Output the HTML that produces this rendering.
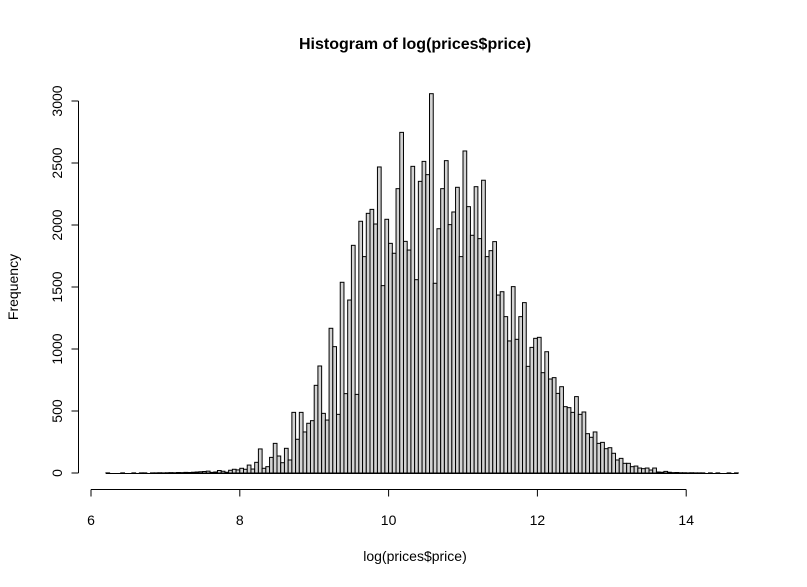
<!DOCTYPE html>
<html><head><meta charset="utf-8"><style>
body{margin:0;background:#fff}
svg{display:block;font-family:"Liberation Sans",Arial,sans-serif}
</style></head><body>
<svg id="chart" width="807" height="587" viewBox="0 0 807 587">
<text x="415" y="49" font-size="16" font-weight="bold" text-anchor="middle">Histogram of log(prices$price)</text>
<text x="415" y="561" font-size="14" text-anchor="middle">log(prices$price)</text>
<text x="18" y="287" font-size="14" text-anchor="middle" transform="rotate(-90 18 287)">Frequency</text>
<g id="bars"></g>
<g id="axes"></g>
</svg>
<script>
const binStart = 6.2;
const binWidth = 0.05;
const counts = [1,0,0,0,1,0,0,1,0,1,1,0,1,1,2,1,2,3,2,4,3,5,4,6,8,10,12,15,
5,8,20,14,6,22,30,25,
38,30,64,32,86,194,38,51,126,239,137,83,199,105,489,272,489,331,401,422,707,863,481,427,1167,1019,473,
1538,640,1395,1836,634,2030,1745,2094,2126,2008,2468,1511,2046,1852,1772,2293,2747,1868,1798,2473,1559,2352,2513,2406,3059,1530,1970,2293,2519,2003,2105,2304,1745,2597,2148,1917,2309,1890,2361,1745,1793,1866,
1435,1462,1261,1065,1503,1078,1261,1374,860,1013,1086,1094,809,978,758,769,642,696,535,527,489,616,473,492,317,288,331,239,247,196,204,159,105,118,78,78,51,56,40,35,40,24,40,8,6,13,6,
3,4,2,2,1,2,1,1,1,0,1,0,1,0,0,1,0,1];
const xTicks = [6,8,10,12,14];
const yTicks = [0,500,1000,1500,2000,2500,3000];

const xs = v => 91 + (v - 6) * 74.4;
const ys = v => 473 - v * 0.124;
const NS = "http://www.w3.org/2000/svg";
const bars = document.getElementById('bars');
const base = document.createElementNS(NS, 'line');
base.setAttribute('x1', xs(binStart)); base.setAttribute('x2', xs(binStart + counts.length * binWidth));
base.setAttribute('y1', ys(0) + 0.5); base.setAttribute('y2', ys(0) + 0.5);
base.setAttribute('stroke', '#000'); base.setAttribute('stroke-width', '1');


bars.appendChild(base);
counts.forEach((c, i) => {
  const x0 = xs(binStart + i * binWidth), x1 = xs(binStart + (i + 1) * binWidth);
  const r = document.createElementNS(NS, 'rect');
  r.setAttribute('x', x0); r.setAttribute('width', x1 - x0);
  r.setAttribute('y', ys(c)); r.setAttribute('height', ys(0) - ys(c));
  r.setAttribute('fill', '#d3d3d3'); r.setAttribute('stroke', '#000'); r.setAttribute('stroke-width', '1');
  
  
  bars.appendChild(r);
});
const axes = document.getElementById('axes');
function line(x1, y1, x2, y2) {
  const l = document.createElementNS(NS, 'line');
  l.setAttribute('x1', x1); l.setAttribute('y1', y1); l.setAttribute('x2', x2); l.setAttribute('y2', y2);
  l.setAttribute('stroke', '#000'); l.setAttribute('stroke-width', '1');
  
  
  axes.appendChild(l);
}
function text(x, y, s, rot) {
  const t = document.createElementNS(NS, 'text');
  t.setAttribute('x', x); t.setAttribute('y', y); t.setAttribute('font-size', '14');
  t.setAttribute('text-anchor', 'middle');
  if (rot) t.setAttribute('transform', 'rotate(-90 ' + x + ' ' + y + ')');
  t.textContent = s;
  
  
  axes.appendChild(t);
}
line(xs(xTicks[0]), 489.5, xs(xTicks[xTicks.length - 1]), 489.5);
xTicks.forEach(v => { line(xs(v), 489.5, xs(v), 496.5); text(xs(v), 525, String(v)); });
line(78.5, ys(yTicks[0]), 78.5, ys(yTicks[yTicks.length - 1]));
yTicks.forEach(v => { line(71.5, ys(v), 78.5, ys(v)); text(62, ys(v), String(v), true); });
</script>
</body></html>
